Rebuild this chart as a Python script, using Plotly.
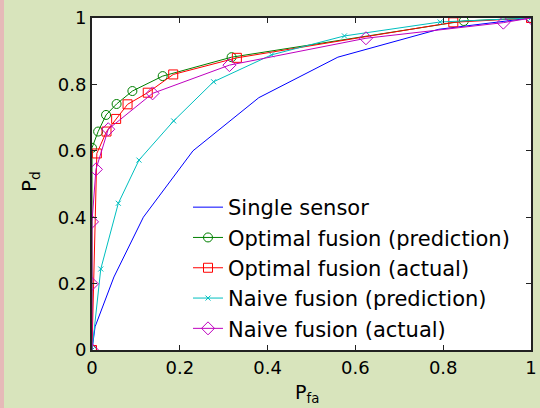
import plotly.graph_objects as go

single_x = [0, 0.007, 0.05, 0.117, 0.23, 0.38, 0.56, 0.79, 1.0]
single_y = [0, 0.07, 0.22, 0.40, 0.60, 0.76, 0.882, 0.966, 1.0]

optp_x = [0, 0.0, 0.014, 0.032, 0.056, 0.092, 0.161, 0.318, 0.847, 1.0]
optp_y = [0, 0.609, 0.658, 0.708, 0.741, 0.780, 0.825, 0.882, 0.991, 1.0]

opta_x = [0, 0.011, 0.033, 0.055, 0.081, 0.127, 0.185, 0.33, 0.823, 1.0]
opta_y = [0, 0.592, 0.658, 0.696, 0.740, 0.775, 0.830, 0.880, 0.987, 1.0]

naivp_x = [0, 0.02, 0.06, 0.107, 0.186, 0.277, 0.409, 0.575, 0.793, 1.0]
naivp_y = [0, 0.244, 0.442, 0.572, 0.690, 0.808, 0.889, 0.946, 0.988, 1.0]

naiva_x = [0, 0.0, 0.0, 0.009, 0.037, 0.138, 0.313, 0.624, 0.937, 1.0]
naiva_y = [0, 0.199, 0.386, 0.544, 0.665, 0.773, 0.858, 0.939, 0.986, 1.0]

names = ["Single sensor", "Optimal fusion (prediction)", "Optimal fusion (actual)",
         "Naive fusion (prediction)", "Naive fusion (actual)"]
tick_vals = [0, 0.2, 0.4, 0.6, 0.8, 1]
tick_text = ["0", "0.2", "0.4", "0.6", "0.8", "1"]
x_title = "P<sub>fa</sub>"
y_title = "P<sub>d</sub>"

FONT = "DejaVu Sans, Liberation Sans, Arial, sans-serif"

fig = go.Figure()
fig.add_trace(go.Scatter(x=single_x, y=single_y, mode="lines", name=names[0],
                         line=dict(color="#0000ff", width=1)))
fig.add_trace(go.Scatter(x=optp_x, y=optp_y, mode="lines+markers", name=names[1],
                         line=dict(color="#008000", width=1),
                         marker=dict(symbol="circle-open", size=9, color="#008000", line=dict(width=1))))
fig.add_trace(go.Scatter(x=opta_x, y=opta_y, mode="lines+markers", name=names[2],
                         line=dict(color="#ff0000", width=1),
                         marker=dict(symbol="square-open", size=9, color="#ff0000", line=dict(width=1))))
fig.add_trace(go.Scatter(x=naivp_x, y=naivp_y, mode="lines+markers", name=names[3],
                         line=dict(color="#00bfbf", width=1),
                         marker=dict(symbol="x-thin-open", size=5, color="#00bfbf", line=dict(width=1, color="#00bfbf"))))
fig.add_trace(go.Scatter(x=naiva_x, y=naiva_y, mode="lines+markers", name=names[4],
                         line=dict(color="#bf00bf", width=1),
                         marker=dict(symbol="diamond-open", size=10, color="#bf00bf", line=dict(width=1))))

L, R, T, B = 92, 9, 18, 58
W, H = 540, 408
pw = W - L - R
ph = H - T - B

def px_x(p):
    return (p - L) / pw

def px_y(p):
    return (H - B - p) / ph

axis_style = dict(range=[0, 1], tickvals=tick_vals, ticktext=tick_text, ticks="inside", ticklen=5,
                  tickcolor="#222222", tickwidth=1, showgrid=False, zeroline=False, showline=True,
                  linecolor="#222222", linewidth=2, mirror="ticks", automargin=False,
                  tickfont=dict(size=18))

fig.update_layout(
    width=W, height=H,
    margin=dict(l=L, r=R, t=T, b=B, pad=0, autoexpand=False),
    paper_bgcolor="#d8e4bc",
    plot_bgcolor="white",
    font=dict(family=FONT, size=18, color="black"),
    showlegend=True,
    legend=dict(x=px_x(188), y=px_y(187), xanchor="left", yanchor="top",
                bgcolor="rgba(0,0,0,0)", borderwidth=0, font=dict(size=21),
                tracegroupgap=0),
    xaxis=axis_style,
    yaxis=axis_style,
    annotations=[
        dict(text=x_title, xref="paper", yref="paper", x=px_x(307), y=px_y(379),
             xanchor="center", yanchor="top", showarrow=False, font=dict(size=19)),
        dict(text=y_title, xref="paper", yref="paper", x=px_x(15), y=px_y(182),
             xanchor="left", yanchor="middle", showarrow=False, textangle=-90, font=dict(size=20)),
    ],
    shapes=[dict(type="rect", xref="paper", yref="paper", x0=px_x(0), x1=px_x(4),
                 y0=px_y(H), y1=px_y(0), fillcolor="#e6b9b8",
                 line=dict(width=0), layer="below")],
)

fig.write_html("out.html", config={"displayModeBar": False},
               post_script="document.body.style.margin='0';document.body.style.overflow='hidden';")
